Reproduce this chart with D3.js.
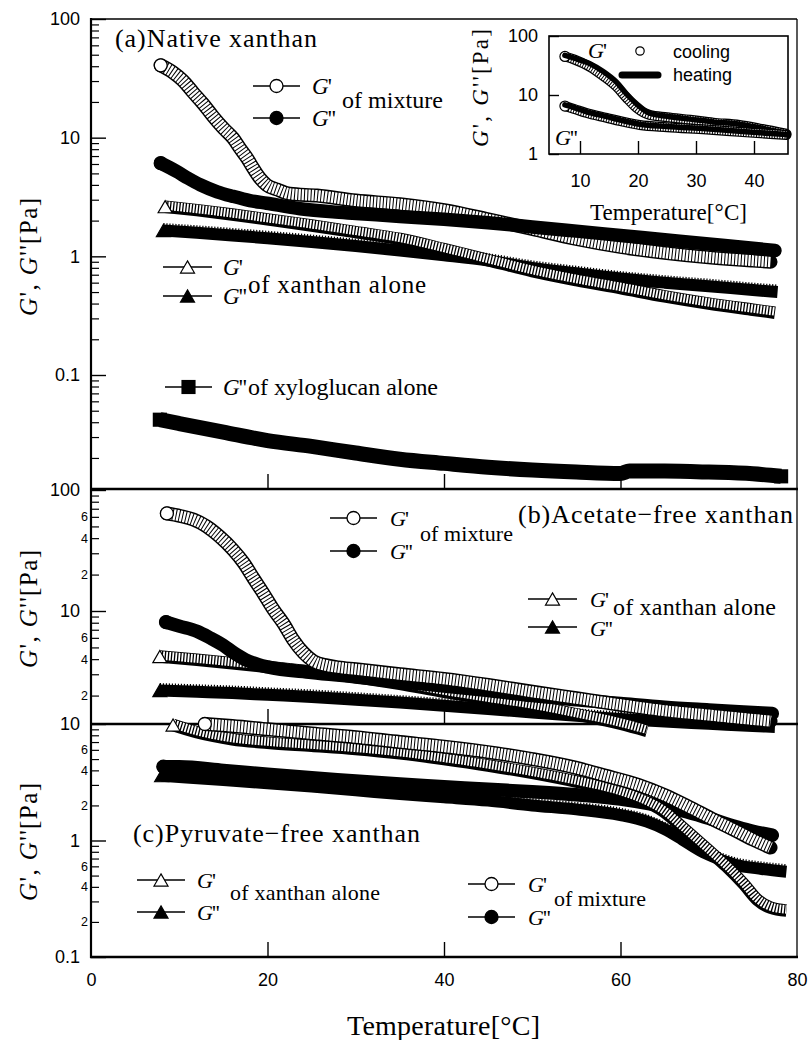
<!DOCTYPE html>
<html>
<head>
<meta charset="utf-8">
<script src="https://cdn.jsdelivr.net/npm/d3@7"></script>
<style>
body { margin: 0; background: #fff; }
svg { display: block; }
</style>
</head>
<body>
<svg width="808" height="1040"></svg>
<script>
// (a) native xanthan  [temperature, modulus]
var aMixG1 = [[7.9,40.7],[9.3,35.4],[10.4,30.3],[11.6,23.9],[12.7,19.3],[13.8,15.2],[15,12],[16.1,9.9],[16.9,8.1],[17.7,6.7],[18.4,5.5],[19.2,4.5],[19.9,4.0],[21.1,3.65],[22.5,3.37],[25.6,3.25],[30,2.95],[35,2.75],[40,2.45],[45,2.05],[50,1.7],[55,1.4],[60,1.2],[65,1.07],[70,0.98],[75,0.92],[77,0.9]];
var aMixG2 = [[7.9,6.1],[9.7,5.2],[11,4.55],[12.4,4.0],[14.3,3.5],[16.1,3.2],[18,2.95],[19.9,2.8],[23.7,2.52],[27.4,2.37],[30,2.3],[35,2.17],[40,2.05],[45,1.92],[50,1.77],[55,1.63],[60,1.5],[65,1.38],[70,1.27],[75,1.17],[77.5,1.12]];
var aXanG1 = [[8.4,2.62],[12,2.45],[16,2.25],[20,2.05],[25,1.82],[30,1.6],[35,1.4],[40,1.15],[45,0.93],[50,0.75],[55,0.63],[60,0.54],[65,0.46],[70,0.4],[75,0.355],[77.5,0.335]];
var aXanG2 = [[8.2,1.65],[12,1.58],[16,1.5],[20,1.42],[25,1.32],[30,1.22],[35,1.12],[40,1.02],[45,0.92],[50,0.8],[55,0.72],[60,0.65],[65,0.6],[70,0.56],[75,0.52],[77.8,0.5]];
var aXylG2 = [[7.8,0.042],[10,0.039],[15,0.033],[20,0.028],[25,0.025],[30,0.022],[35,0.0195],[40,0.018],[45,0.0167],[50,0.0158],[55,0.0152],[60,0.0148],[61,0.0155],[65,0.0155],[70,0.0152],[75,0.0147],[78.2,0.014]];

// (b) acetate-free xanthan
var bMixG1 = [[8.6,64],[10.1,61],[11.6,57],[13.1,50],[14.6,41],[16.1,32],[17.3,25],[18.4,18.7],[19.5,14.1],[20.7,10.2],[21.8,7.9],[22.9,5.8],[24.1,4.5],[25.2,3.85],[26.7,3.55],[28,3.42],[30,3.3],[35,3.0],[40,2.75],[45,2.45],[50,2.15],[55,1.9],[60,1.68],[65,1.5],[70,1.38],[75,1.27],[77,1.23]];
var bMixG2 = [[8.5,8.1],[10,7.5],[12,6.8],[13.5,6.0],[15,5.2],[16.2,4.5],[17.5,3.95],[19,3.6],[20,3.45],[25,3.1],[30,2.85],[35,2.6],[40,2.4],[45,2.2],[50,2.0],[55,1.85],[60,1.72],[65,1.6],[70,1.52],[75,1.45],[77.2,1.42]];
var bXanG1 = [[7.8,4.2],[12,3.95],[16,3.7],[20,3.45],[25,3.15],[30,2.85],[35,2.5],[40,2.15],[45,1.88],[50,1.65],[55,1.4],[60,1.17],[63,1.02]];
var bXanG2 = [[7.8,2.2],[12,2.15],[16,2.1],[20,2.03],[25,1.95],[30,1.85],[35,1.75],[40,1.65],[45,1.55],[50,1.45],[55,1.36],[60,1.28],[65,1.22],[70,1.17],[75,1.12],[77.5,1.1]];

// (c) pyruvate-free xanthan
var cMixG1 = [[12.9,10],[16,9.6],[20,9.0],[25,8.3],[30,7.7],[35,7.0],[40,6.4],[46,5.6],[50,5.0],[55,4.2],[58,3.65],[62,3.0],[65,2.45],[68,1.9],[71,1.45],[73,1.22],[75,1.02],[77,0.87]];
var cMixG2 = [[8.2,4.3],[10,4.3],[15,4.0],[20,3.7],[25,3.45],[30,3.25],[35,3.05],[40,2.9],[45,2.75],[50,2.62],[55,2.47],[60,2.27],[64,2.02],[67,1.8],[70,1.55],[73,1.32],[75,1.2],[77.2,1.11]];
var cXanG1 = [[9.3,9.8],[12,8.5],[16,7.4],[20,6.9],[25,6.5],[30,6.1],[35,5.6],[40,5.0],[45,4.4],[50,3.8],[55,3.2],[60,2.6],[62,2.3],[65,1.75],[67,1.3],[70,0.82],[72,0.6],[74,0.42],[75.5,0.31],[77,0.265],[78.8,0.25]];
var cXanG2 = [[8,3.6],[15,3.3],[20,3.1],[25,2.9],[30,2.7],[35,2.5],[40,2.35],[45,2.2],[50,2.0],[55,1.85],[60,1.65],[63,1.45],[65,1.25],[67,1.02],[69,0.82],[71,0.7],[73,0.62],[76,0.57],[78.8,0.54]];

// inset: cooling (circles) and heating (line) of the native mixture
var insCoolG1 = [[7.4,45],[9,40],[11.7,30],[14,21],[16.3,13.8],[18,9],[19.8,6],[22,4.6],[25,4.2],[29,3.8],[33,3.4],[37.5,3.1],[41,2.7],[45.6,2.2]];
var insCoolG2 = [[7.4,6.5],[9,5.8],[11,5.0],[14.6,4.1],[17,3.6],[20.3,3.1],[25,2.85],[31.8,2.6],[38,2.35],[45.6,2.1]];
var insHeatG1 = [[7.4,47],[9,42],[11.7,34],[14,25],[16.3,16.5],[18,10.5],[19.8,7],[22,4.9],[25,4.35],[29,3.9],[33,3.5],[37.5,3.2],[41,2.78],[45.6,2.25]];
var insHeatG2 = [[7.4,6.8],[9,6.1],[11,5.25],[14.6,4.3],[17,3.75],[20.3,3.2],[25,2.93],[31.8,2.67],[38,2.4],[45.6,2.14]];

// tick values
var aMajor = [100, 10, 1, 0.1];
var bMajor = [100, 10];
var cMajor = [10, 1, 0.1];
var minorShown = [2, 4, 6];
var xTicks = [0, 20, 40, 60, 80];
var xInner = [20, 40, 60];
var insYTicks = [100, 10, 1];
var insXTicks = [10, 20, 30, 40];

var SERIF = "'Liberation Serif','Times New Roman',serif";
var SANS = "'Liberation Sans',Arial,sans-serif";

var svg = d3.select("svg");
var x = d3.scaleLinear().domain([0, 80]).range([91, 797]);
var yA = d3.scaleLog().domain([100, 0.1]).range([19, 375]);
var yB = d3.scaleLog().domain([100, 10]).range([490, 611]);
var yC = d3.scaleLog().domain([10, 0.1]).range([724, 957]);

var triSym = d3.symbol().type(d3.symbolTriangle).size(85)();
var sqSym = d3.symbol().type(d3.symbolSquare).size(200)();

function marker(g, cx, cy, kind) {
    if (kind == "oc" || kind == "fc") {
        g.append("circle").attr("cx", cx).attr("cy", cy).attr("r", 6.5)
            .attr("fill", kind == "oc" ? "#fff" : "#000").attr("stroke", "#000").attr("stroke-width", 1.3);
    } else if (kind == "ot" || kind == "ft") {
        g.append("path").attr("d", triSym).attr("transform", "translate(" + cx + "," + (cy + 2) + ")")
            .attr("fill", kind == "ot" ? "#fff" : "#000").attr("stroke", "#000").attr("stroke-width", 1.2);
    } else {
        g.append("path").attr("d", sqSym).attr("transform", "translate(" + cx + "," + cy + ")").attr("fill", "#000");
    }
}

function series(y, data, kind) {
    var g = svg.append("g");
    var line = d3.line()
        .x(function (d) { return x(d[0]); })
        .y(function (d) { return y(d[1]); })
        .curve(d3.curveMonotoneX);
    var p = line(data);
    var first = data[0], last = data[data.length - 1];
    if (kind == "oc") {
        g.append("path").attr("d", p).attr("fill", "none").attr("stroke", "#000").attr("stroke-width", 14).attr("stroke-linecap", "round");
        g.append("path").attr("d", p).attr("fill", "none").attr("stroke", "#fff").attr("stroke-width", 11).attr("stroke-dasharray", "2.3 1");
    } else if (kind == "fc") {
        g.append("path").attr("d", p).attr("fill", "none").attr("stroke", "#000").attr("stroke-width", 13.5).attr("stroke-linecap", "round");
    } else if (kind == "ot") {
        g.append("path").attr("d", p).attr("fill", "none").attr("stroke", "#000").attr("stroke-width", 12.5);
        g.append("path").attr("d", p).attr("transform", "translate(0,-1.2)").attr("fill", "none").attr("stroke", "#fff").attr("stroke-width", 8.5).attr("stroke-dasharray", "1.8 1.3");
    } else if (kind == "ft") {
        g.append("path").attr("d", p).attr("fill", "none").attr("stroke", "#000").attr("stroke-width", 12);
        // serrated upper edge left by the overlapping triangle tips
        g.append("path").attr("d", p).attr("transform", "translate(0,-6.5)").attr("fill", "none").attr("stroke", "#000").attr("stroke-width", 2).attr("stroke-dasharray", "1.2 1.8");
    } else {
        g.append("path").attr("d", p).attr("fill", "none").attr("stroke", "#000").attr("stroke-width", 15);
        marker(g, x(last[0]), y(last[1]), kind);
    }
    marker(g, x(first[0]), y(first[1]), kind);
}

function yAxis(y, top, bottom, major, decades, minorLabels) {
    var minorVals = [];
    decades.forEach(function (d) {
        for (var m = 2; m <= 9; m++) minorVals.push(+(m * d).toPrecision(3));
    });
    minorVals = minorVals.filter(function (v) { var py = y(v); return py > top + 1 && py < bottom - 1; });

    var gM = svg.append("g").attr("transform", "translate(91,0)")
        .call(d3.axisLeft(y).tickValues(major).tickSize(-15).tickPadding(11).tickFormat(function (d) { return String(d); }));
    gM.select(".domain").remove();
    gM.selectAll("line").attr("stroke-width", 1.4);
    gM.selectAll("text").attr("font-family", SANS).attr("font-size", 18).attr("fill", "#000");

    var gm = svg.append("g").attr("transform", "translate(91,0)")
        .call(d3.axisLeft(y).tickValues(minorVals).tickSize(-8).tickPadding(3).tickFormat(function (d) {
            if (!minorLabels) return "";
            var m = Math.round(d / Math.pow(10, Math.floor(Math.log10(d) + 1e-9)));
            return minorShown.indexOf(m) >= 0 ? String(m) : "";
        }));
    gm.select(".domain").remove();
    gm.selectAll("line").attr("stroke-width", 1.2);
    gm.selectAll("text").attr("font-family", SANS).attr("font-size", 12.5).attr("fill", "#000");
}

function xAxis(bottom) {
    var g = svg.append("g").attr("transform", "translate(0," + bottom + ")")
        .call(d3.axisBottom(x).tickValues(xInner).tickSize(-15).tickFormat(""));
    g.select(".domain").remove();
    g.selectAll("line").attr("stroke-width", 1.4);
}

function gText(px, py, primes, size) {
    var t = svg.append("text").attr("x", px).attr("y", py).attr("font-family", SERIF).attr("font-size", size);
    t.append("tspan").attr("font-style", "italic").text("G");
    t.append("tspan").attr("dx", -1).text(primes);
}

function plainText(px, py, s, size, len, anchor) {
    var t = svg.append("text").attr("x", px).attr("y", py).attr("font-family", SERIF).attr("font-size", size)
        .attr("text-anchor", anchor || "start").text(s);
    if (len) t.attr("textLength", len).attr("lengthAdjust", "spacing");
    return t;
}

function legendRow(x1, x2, y, kind) {
    var g = svg.append("g");
    g.append("line").attr("x1", x1).attr("x2", x2).attr("y1", y).attr("y2", y).attr("stroke", "#000").attr("stroke-width", 1.6);
    marker(g, (x1 + x2) / 2, y, kind);
}

function yLabel(cx, cy, size, len) {
    var t = svg.append("text").attr("transform", "translate(" + cx + "," + cy + ") rotate(-90)")
        .attr("text-anchor", "middle").attr("font-family", SERIF).attr("font-size", size)
        .attr("textLength", len).attr("lengthAdjust", "spacing");
    t.append("tspan").attr("font-style", "italic").text("G");
    t.append("tspan").text("',  ");
    t.append("tspan").attr("font-style", "italic").text("G");
    t.append("tspan").text("''[Pa]");
}

// frame
svg.append("line").attr("x1", 91).attr("x2", 797).attr("y1", 19).attr("y2", 19).attr("stroke", "#000").attr("stroke-width", 1.3);
svg.append("line").attr("x1", 797).attr("x2", 797).attr("y1", 19).attr("y2", 957).attr("stroke", "#000").attr("stroke-width", 1.3);
[489, 724, 957].forEach(function (b) {
    svg.append("line").attr("x1", 90).attr("x2", 798).attr("y1", b).attr("y2", b).attr("stroke", "#000").attr("stroke-width", 2.4);
});
svg.append("line").attr("x1", 91).attr("x2", 91).attr("y1", 18).attr("y2", 958).attr("stroke", "#000").attr("stroke-width", 2.2);

yAxis(yA, 19, 489, aMajor, [10, 1, 0.1, 0.01], false);
yAxis(yB, 489, 724, bMajor, [10, 1], true);
yAxis(yC, 724, 957, cMajor, [1, 0.1], true);
xAxis(489);
xAxis(724);
xAxis(957);

var gx = svg.append("g").attr("transform", "translate(0,957)")
    .call(d3.axisBottom(x).tickValues(xTicks).tickSize(0).tickPadding(16));
gx.select(".domain").remove();
gx.selectAll("text").attr("font-family", SANS).attr("font-size", 18).attr("fill", "#000");

// data
series(yA, aXylG2, "sq");
series(yA, aXanG2, "ft");
series(yA, aXanG1, "ot");
series(yA, aMixG1, "oc");
series(yA, aMixG2, "fc");

series(yB, bXanG2, "ft");
series(yB, bXanG1, "ot");
series(yB, bMixG2, "fc");
series(yB, bMixG1, "oc");

series(yC, cXanG2, "ft");
series(yC, cMixG2, "fc");
series(yC, cXanG1, "ot");
series(yC, cMixG1, "oc");

// panel (a) texts
plainText(115, 47, "(a)Native xanthan", 26, 202);
legendRow(253, 300, 86, "oc");
legendRow(253, 300, 118, "fc");
gText(312, 94, "'", 23);
gText(312, 126, "''", 23);
plainText(342, 108, "of mixture", 24, 101);
legendRow(163, 212, 267, "ot");
legendRow(163, 212, 296, "ft");
gText(223, 275, "'", 23);
gText(223, 304, "''", 23);
plainText(248, 293, "of xanthan alone", 25, 178);
legendRow(165, 212, 387, "sq");
gText(223, 395, "''", 23);
plainText(248, 395, "of xyloglucan alone", 24, 190);

// panel (b) texts
plainText(793, 523, "(b)Acetate\u2212free xanthan", 26, 275, "end");
legendRow(330, 377, 518, "oc");
legendRow(330, 377, 551, "fc");
gText(390, 526, "'", 22);
gText(390, 559, "''", 22);
plainText(420, 541, "of mixture", 22, 93);
legendRow(528, 577, 599, "ot");
legendRow(528, 577, 627, "ft");
gText(590, 607, "'", 22);
gText(590, 636, "''", 22);
plainText(613, 615, "of xanthan alone", 24, 163);

// panel (c) texts
plainText(133, 842, "(c)Pyruvate\u2212free xanthan", 26, 287);
legendRow(137, 185, 880, "ot");
legendRow(137, 185, 912, "ft");
gText(197, 888, "'", 22);
gText(197, 920, "''", 22);
plainText(230, 900, "of xanthan alone", 22, 150);
legendRow(468, 515, 884, "oc");
legendRow(468, 515, 917, "fc");
gText(528, 892, "'", 22);
gText(528, 925, "''", 22);
plainText(554, 906, "of mixture", 22, 92);

// axis titles
yLabel(37, 257, 25, 118);
yLabel(37, 609, 25, 118);
yLabel(37, 842, 25, 118);
plainText(443.5, 1035, "Temperature[\u00b0C]", 28, 193, "middle");

// inset
var ix = d3.scaleLinear().domain([10, 40]).range([580, 754]);
var iy = d3.scaleLog().domain([100, 1]).range([36, 154]);
svg.append("rect").attr("x", 549).attr("y", 36).attr("width", 239).attr("height", 118)
    .attr("fill", "#fff").attr("stroke", "#000").attr("stroke-width", 1.6);

var giy = svg.append("g").attr("transform", "translate(549,0)")
    .call(d3.axisLeft(iy).tickValues(insYTicks).tickSize(-10).tickPadding(11).tickFormat(function (d) { return String(d); }));
giy.select(".domain").remove();
giy.selectAll("line").attr("stroke-width", 1.4);
giy.selectAll("text").attr("font-family", SANS).attr("font-size", 18).attr("fill", "#000");

var gix = svg.append("g").attr("transform", "translate(0,154)")
    .call(d3.axisBottom(ix).tickValues(insXTicks).tickSize(-13).tickPadding(20));
gix.select(".domain").remove();
gix.selectAll("line").attr("stroke-width", 1.4);
gix.selectAll("text").attr("font-family", SANS).attr("font-size", 18).attr("fill", "#000");

function insCurve(cool, heat) {
    var line = d3.line()
        .x(function (d) { return ix(d[0]); })
        .y(function (d) { return iy(d[1]); })
        .curve(d3.curveMonotoneX);
    var g = svg.append("g");
    g.append("path").attr("d", line(cool)).attr("fill", "none").attr("stroke", "#000").attr("stroke-width", 10).attr("stroke-linecap", "round");
    g.append("path").attr("d", line(cool)).attr("fill", "none").attr("stroke", "#fff").attr("stroke-width", 7.5).attr("stroke-dasharray", "1.6 1");
    g.append("circle").attr("cx", ix(cool[0][0])).attr("cy", iy(cool[0][1])).attr("r", 5)
        .attr("fill", "#fff").attr("stroke", "#000").attr("stroke-width", 1.2);
    g.append("path").attr("d", line(heat)).attr("fill", "none").attr("stroke", "#000").attr("stroke-width", 5.5).attr("stroke-linecap", "round");
}
insCurve(insCoolG1, insHeatG1);
insCurve(insCoolG2, insHeatG2);

gText(588, 58, "'", 22);
gText(555, 145, "''", 22);
svg.append("circle").attr("cx", 640).attr("cy", 51).attr("r", 4.2).attr("fill", "#fff").attr("stroke", "#000").attr("stroke-width", 1.2);
svg.append("line").attr("x1", 622).attr("x2", 658).attr("y1", 75).attr("y2", 75).attr("stroke", "#000").attr("stroke-width", 7).attr("stroke-linecap", "round");
svg.append("text").attr("x", 673).attr("y", 58).attr("font-family", SANS).attr("font-size", 18).text("cooling");
svg.append("text").attr("x", 673).attr("y", 81).attr("font-family", SANS).attr("font-size", 18).text("heating");

yLabel(488, 88, 23, 118);
plainText(668.5, 220, "Temperature[\u00b0C]", 23, 157, "middle");
</script>
</body>
</html>
